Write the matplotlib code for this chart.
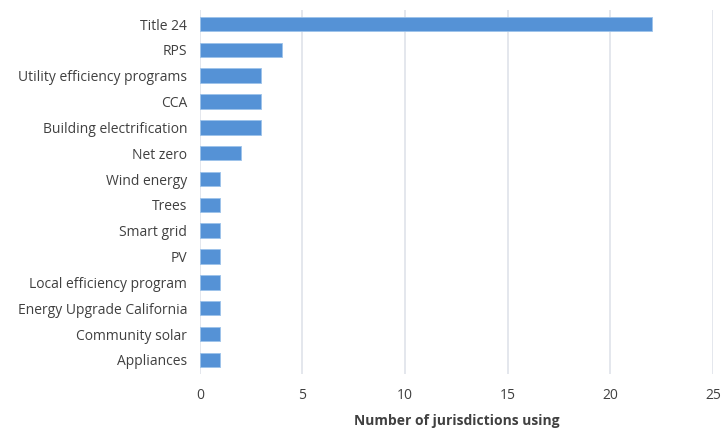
import matplotlib
matplotlib.use("Agg")
import matplotlib.pyplot as plt

categories = [
    "Title 24",
    "RPS",
    "Utility efficiency programs",
    "CCA",
    "Building electrification",
    "Net zero",
    "Wind energy",
    "Trees",
    "Smart grid",
    "PV",
    "Local efficiency program",
    "Energy Upgrade California",
    "Community solar",
    "Appliances",
]
counts = [22, 4, 3, 3, 3, 2, 1, 1, 1, 1, 1, 1, 1, 1]
xticks = [0, 5, 10, 15, 20, 25]

plt.rcParams["font.family"] = ["Open Sans", "DejaVu Sans"]
text_color = "#404040"

fig = plt.figure(figsize=(7.24, 4.28), dpi=100)
ax = fig.add_axes([0.276, 0.126, 0.709, 0.851])

y = list(range(len(categories)))[::-1]
ax.barh(y, counts, height=0.56, color="#5592d6", edgecolor="#9cc3ea",
        linewidth=0.6, zorder=3)

ax.set_xlim(0, 25)
ax.set_ylim(-0.55, len(categories) - 0.45)
ax.set_xticks(xticks)
ax.set_yticks(y)
ax.set_yticklabels(categories)
ax.grid(axis="x", color="#dfe3ea", linewidth=1.2, zorder=0)
for side in ["top", "right", "bottom", "left"]:
    ax.spines[side].set_visible(False)
ax.tick_params(axis="both", length=0, colors=text_color, labelsize=10)
ax.tick_params(axis="x", pad=10)
ax.tick_params(axis="y", pad=9)
for lbl in ax.get_yticklabels():
    lbl.set_fontstretch("normal")
ax.set_xlabel("Number of jurisdictions using", color=text_color,
              fontsize=10, fontweight="bold", labelpad=8)

fig.savefig("out.png", dpi=100)
